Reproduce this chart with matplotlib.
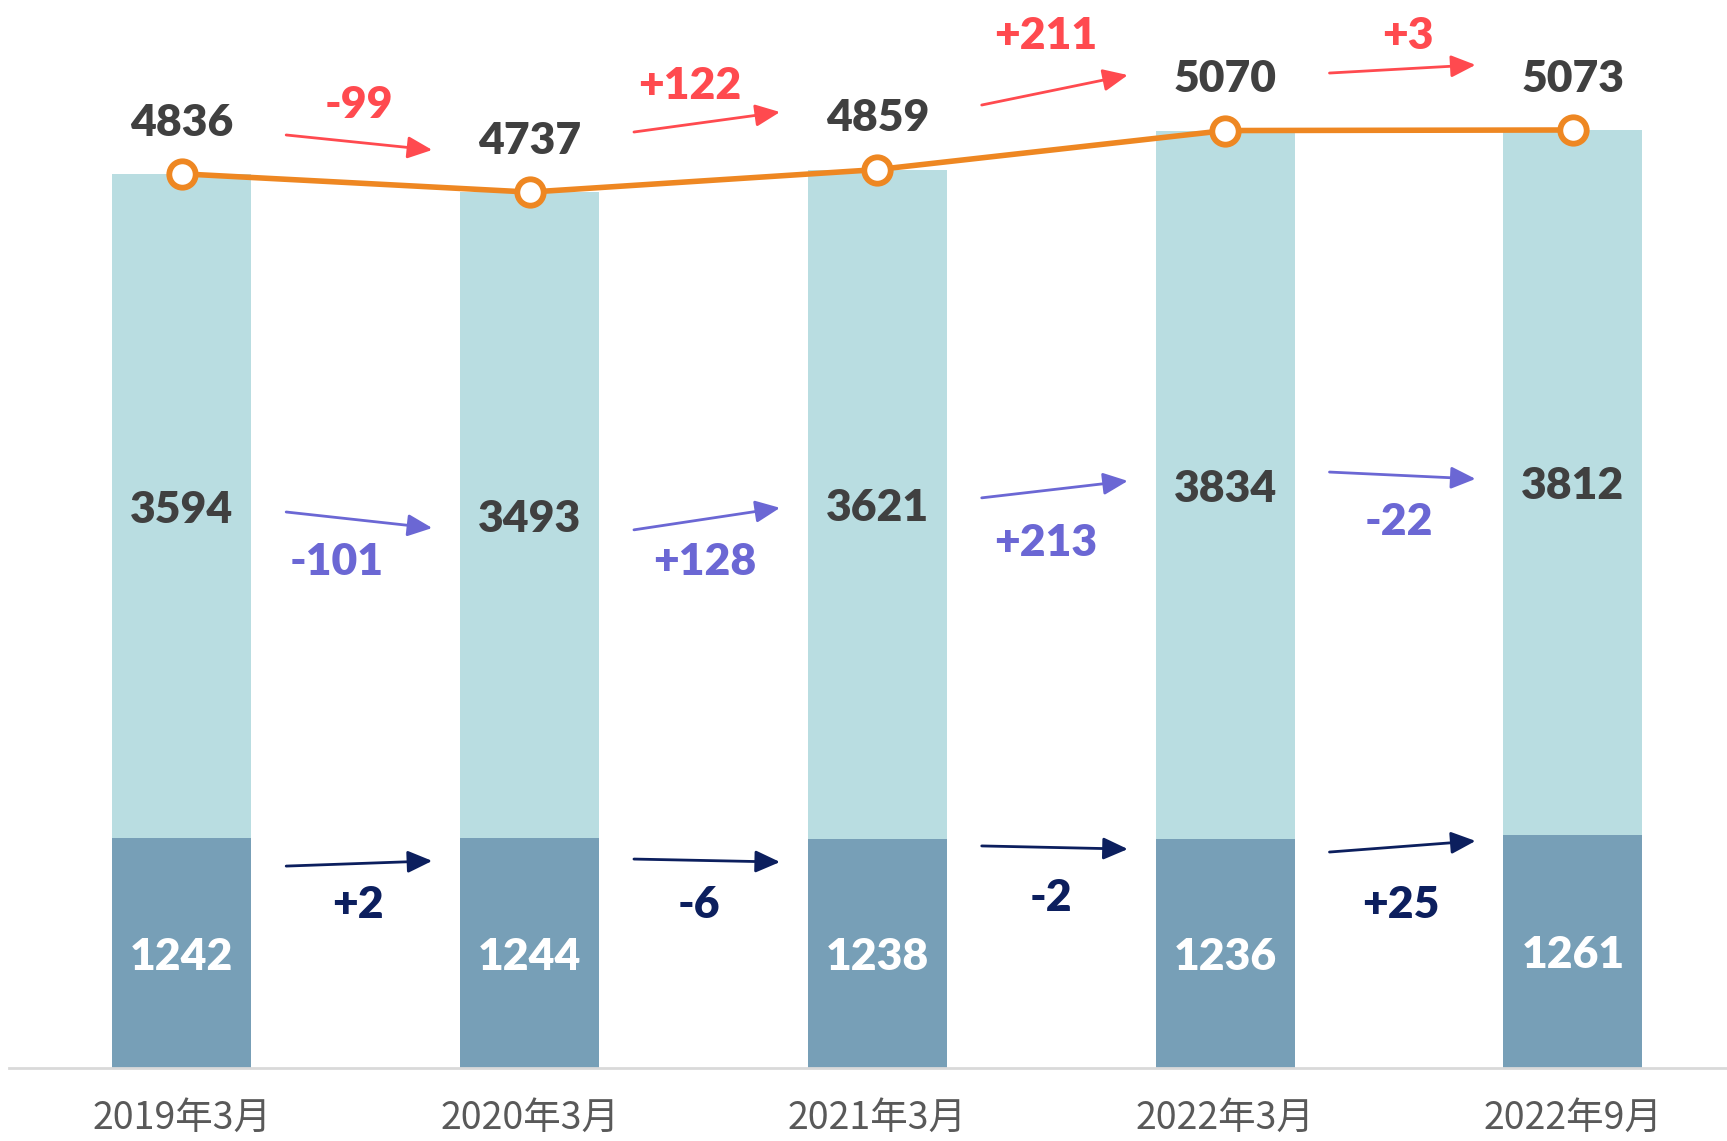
import numpy as np
import matplotlib.pyplot as plt

# data
periods = ['2019年3月', '2020年3月', '2021年3月', '2022年3月', '2022年9月']
lower = [1242, 1244, 1238, 1236, 1261]
upper = [3594, 3493, 3621, 3834, 3812]
total = [4836, 4737, 4859, 5070, 5073]

# hand placed arrow offsets (data units) relative to the labels they join
total_arrow_dy = [(210, 228), (325, 311), (349, 300), (311, 352)]
total_text_dy = [225, 217, 314, 200]
total_text_dx = [0.51, 0.46, 0.485, 0.525]
upper_arrow_dy = [(-32, -70), (-80, -19), (35, 22), (70, 19)]
upper_text_dy = [-205, -212, -268, -230]
upper_text_dx = [0.445, 0.505, 0.485, 0.50]
lower_arrow_dy = [(-150, -124), (-114, -124), (-37, -52), (-68, -33)]
lower_text_dy = [-203, -219, -252, -295]
lower_text_dx = [0.505, 0.487, 0.50, 0.505]

num_font = 'Lato'
cjk_font = ['Noto Sans CJK SC', 'DejaVu Sans']

fig = plt.figure(figsize=(17.27, 11.41), dpi=100)
ax = fig.add_axes([9 / 1727, 73 / 1141, 1718 / 1727, 1068 / 1141])

x = np.arange(len(periods))
lower = np.array(lower)
upper = np.array(upper)
total = np.array(total)

ax.bar(x, lower, 0.4, color='#779fb7', zorder=1)
ax.bar(x, upper, 0.4, bottom=lower, color='#b9dde1', zorder=1)
ax.plot(x, total, color='#ee8722', lw=4, marker='o', ms=19,
        mfc='white', mec='#ee8722', mew=4.2, zorder=3)

# value labels
for i in x:
    ax.annotate(str(total[i]), (i, total[i]), xytext=(0, 27.5), textcoords='offset points',
                ha='center', va='baseline', fontsize=32, fontweight='heavy',
                color='#404040', family=num_font)
    ax.annotate(str(upper[i]), (i, lower[i] + upper[i] / 2), xytext=(0, -12),
                textcoords='offset points', ha='center', va='baseline', fontsize=32,
                fontweight='heavy', color='#404040', family=num_font)
    ax.annotate(str(lower[i]), (i, lower[i] / 2), xytext=(0, -12),
                textcoords='offset points', ha='center', va='baseline', fontsize=32,
                fontweight='heavy', color='white', family=num_font)


def arrow_row(anchors, values, dys, tdxs, tdys, color):
    deltas = np.diff(values)
    for i, d in enumerate(deltas):
        x0, x1 = i + 0.30, i + 0.72
        y0 = anchors[i] + dys[i][0]
        y1 = anchors[i + 1] + dys[i][1]
        ax.annotate('', xy=(x1, y1), xytext=(x0, y0),
                    arrowprops=dict(arrowstyle='-|>,head_length=1.0,head_width=0.45',
                                    mutation_scale=15, color=color, lw=2,
                                    shrinkA=0, shrinkB=0), zorder=4)
        ax.annotate('%+d' % d, (i + tdxs[i], (y0 + y1) / 2 + tdys[i]), xytext=(0, -12),
                    textcoords='offset points', ha='center', va='baseline',
                    fontsize=32, fontweight='heavy', color=color, family=num_font)


arrow_row(total, total, total_arrow_dy, total_text_dx, total_text_dy, '#ff4a4f')
arrow_row(lower + upper / 2, upper, upper_arrow_dy, upper_text_dx, upper_text_dy, '#6b67d4')
arrow_row(lower, lower, lower_arrow_dy, lower_text_dx, lower_text_dy, '#0c1f5e')

ax.set_xlim(-0.497, 4.443)
ax.set_ylim(0, 5776)
ax.set_xticks(x)
ax.set_xticklabels(periods, family=cjk_font, fontsize=27, color='#595959')
ax.tick_params(axis='x', length=0, pad=22)
ax.set_yticks([])
for s in ['top', 'left', 'right']:
    ax.spines[s].set_visible(False)
ax.spines['bottom'].set_color('#d9d9d9')
ax.spines['bottom'].set_linewidth(2)

fig.savefig('out.png', dpi=100)
